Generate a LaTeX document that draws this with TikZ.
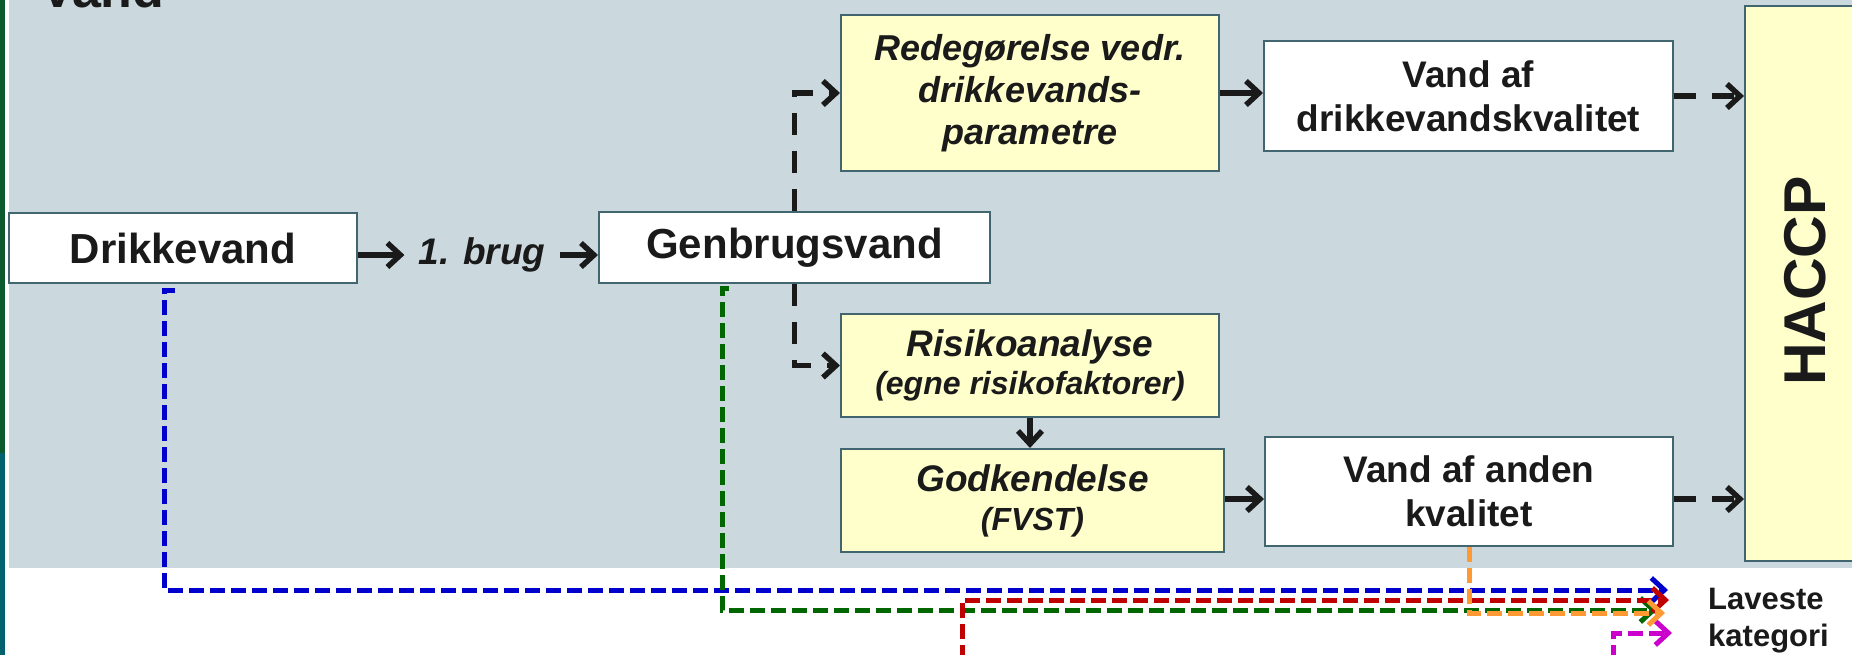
\documentclass[tikz,border=0pt]{standalone}
\usepackage{fontspec}
\setmainfont{Liberation Sans}
\usetikzlibrary{arrows.meta}
\definecolor{bgray}{HTML}{CBD9DF}
\definecolor{ycol}{HTML}{FFFFCC}
\definecolor{bcol}{HTML}{416670}
\definecolor{tcol}{HTML}{1A1A1A}
\definecolor{dgreen}{HTML}{0B5A2E}
\definecolor{teal}{HTML}{00626F}
\definecolor{cblue}{HTML}{0000CC}
\definecolor{cred}{HTML}{C00000}
\definecolor{cgreen}{HTML}{006600}
\definecolor{corange}{HTML}{FF9933}
\definecolor{cmag}{HTML}{CC00CC}
\tikzset{
  bx/.style={draw=bcol, line width=2pt, inner sep=0pt, text=tcol, align=center},
  wbx/.style={bx, fill=white},
  ybx/.style={bx, fill=ycol},
  arr/.style={draw=tcol, line width=5.5pt, -{Straight Barb[length=13pt,width=24pt]}},
  darr/.style={arr, dash pattern=on 22pt off 16pt},
  cl/.style={line width=5pt, dash pattern=on 15pt off 6pt, -{Straight Barb[length=13pt,width=24pt]}},
  bigf/.style={font=\bfseries\fontsize{42}{48}\selectfont},
  medf/.style={font=\bfseries\fontsize{37}{44}\selectfont},
  itf/.style={font=\bfseries\itshape\fontsize{36}{42}\selectfont},
}
\begin{document}
\begin{tikzpicture}[x=1pt,y=-1pt]
\useasboundingbox (0,0) rectangle (1852,655);
\clip (0,0) rectangle (1852,655);
% background
\fill[white] (0,0) rectangle (1852,655);
\fill[dgreen] (0,0) rectangle (5,453);
\fill[teal] (0,453) rectangle (5,655);
\fill[bgray] (9,0) rectangle (1852,568);
% title
\node[anchor=base west, inner sep=0pt, text=tcol, font=\bfseries\fontsize{52}{60}\selectfont] (title) at (40,8) {Vand};
% boxes
\node[wbx, bigf, minimum width=348pt, minimum height=70pt] (drik) at (183,248) {Drikkevand};
\node[wbx, bigf, minimum width=391pt, minimum height=71pt] (genb) at (794.5,247.5) {Genbrugsvand};
\node[ybx, itf, minimum width=378pt, minimum height=156pt] (rede) at (1030,93) {Redegørelse vedr.\\drikkevands-\\parametre};
\node[wbx, medf, minimum width=409pt, minimum height=110pt] (vdk) at (1468.5,96) {Vand af\\drikkevandskvalitet};
\node[ybx, font=\bfseries\itshape\fontsize{32}{38}\selectfont, minimum width=378pt, minimum height=103pt] (risk) at (1030,365.5) {{\fontsize{37}{38}\selectfont Risikoanalyse}\\(egne risikofaktorer)};
\node[ybx, font=\bfseries\itshape\fontsize{32}{39}\selectfont, minimum width=383pt, minimum height=103pt] (godk) at (1032.5,500.5) {{\fontsize{37}{39}\selectfont Godkendelse}\\(FVST)};
\node[wbx, medf, minimum width=408pt, minimum height=109pt] (vak) at (1469,491.5) {Vand af anden\\kvalitet};
\node[ybx, minimum width=155pt, minimum height=555pt] (haccp) at (1822.5,283.5) {};
\node[rotate=90, text=tcol, inner sep=0pt, font=\bfseries\fontsize{59}{64}\selectfont] (haccpt) at (1805,281) {HACCP};
\node[text=tcol, inner xsep=14pt, inner ysep=0pt, font=\bfseries\itshape\fontsize{37}{44}\selectfont] (brug) at (482,255) {1. brug};
\node[anchor=north west, inner sep=0pt, text=tcol, align=left, font=\bfseries\fontsize{31}{37}\selectfont] (lav) at (1708,587.5) {Laveste\\kategori};
% black connectors
\draw[arr] (drik.east |- brug) -- (brug.west);
\draw[arr] (brug.east) -- (genb.west |- brug);
\draw[darr] (genb.north) |- (rede.west);
\draw[darr] (genb.south) |- (risk.west);
\draw[arr] (rede.east) -- (rede.east -| vdk.west);
\draw[arr] (risk.south) -- (risk.south |- godk.north);
\draw[arr] ([yshift=1.5pt]godk.east) -- ([yshift=1.5pt]godk.east -| vak.west);
\draw[darr] (vdk.east) -- (vdk.east -| haccp.west);
\draw[darr] ([yshift=-7.5pt]vak.east) -- ([yshift=-7.5pt]vak.east -| haccp.west);
% coloured connectors
\coordinate (b0) at (175,290);
\coordinate (b1) at (164,290);
\coordinate (bT) at (1668,590);
\coordinate (g0) at (729,288);
\coordinate (g1) at (722,288);
\coordinate (gT) at (1657,610);
\coordinate (r0) at (962,660);
\coordinate (rT) at (1669,600);
\coordinate (m0) at (1613,660);
\coordinate (mT) at (1672,633);
\coordinate (oT) at (1665,613);
\draw[cl, draw=cblue] (b0) -- (b1) |- (bT);
\draw[cl, draw=cgreen] (g0) -- (g1) |- (gT);
\draw[cl, draw=cred] (r0) |- (rT);
\draw[cl, draw=cmag] (m0) |- (mT);
\draw[cl, draw=corange] (vak.south) |- (oT);
\end{tikzpicture}
\end{document}
